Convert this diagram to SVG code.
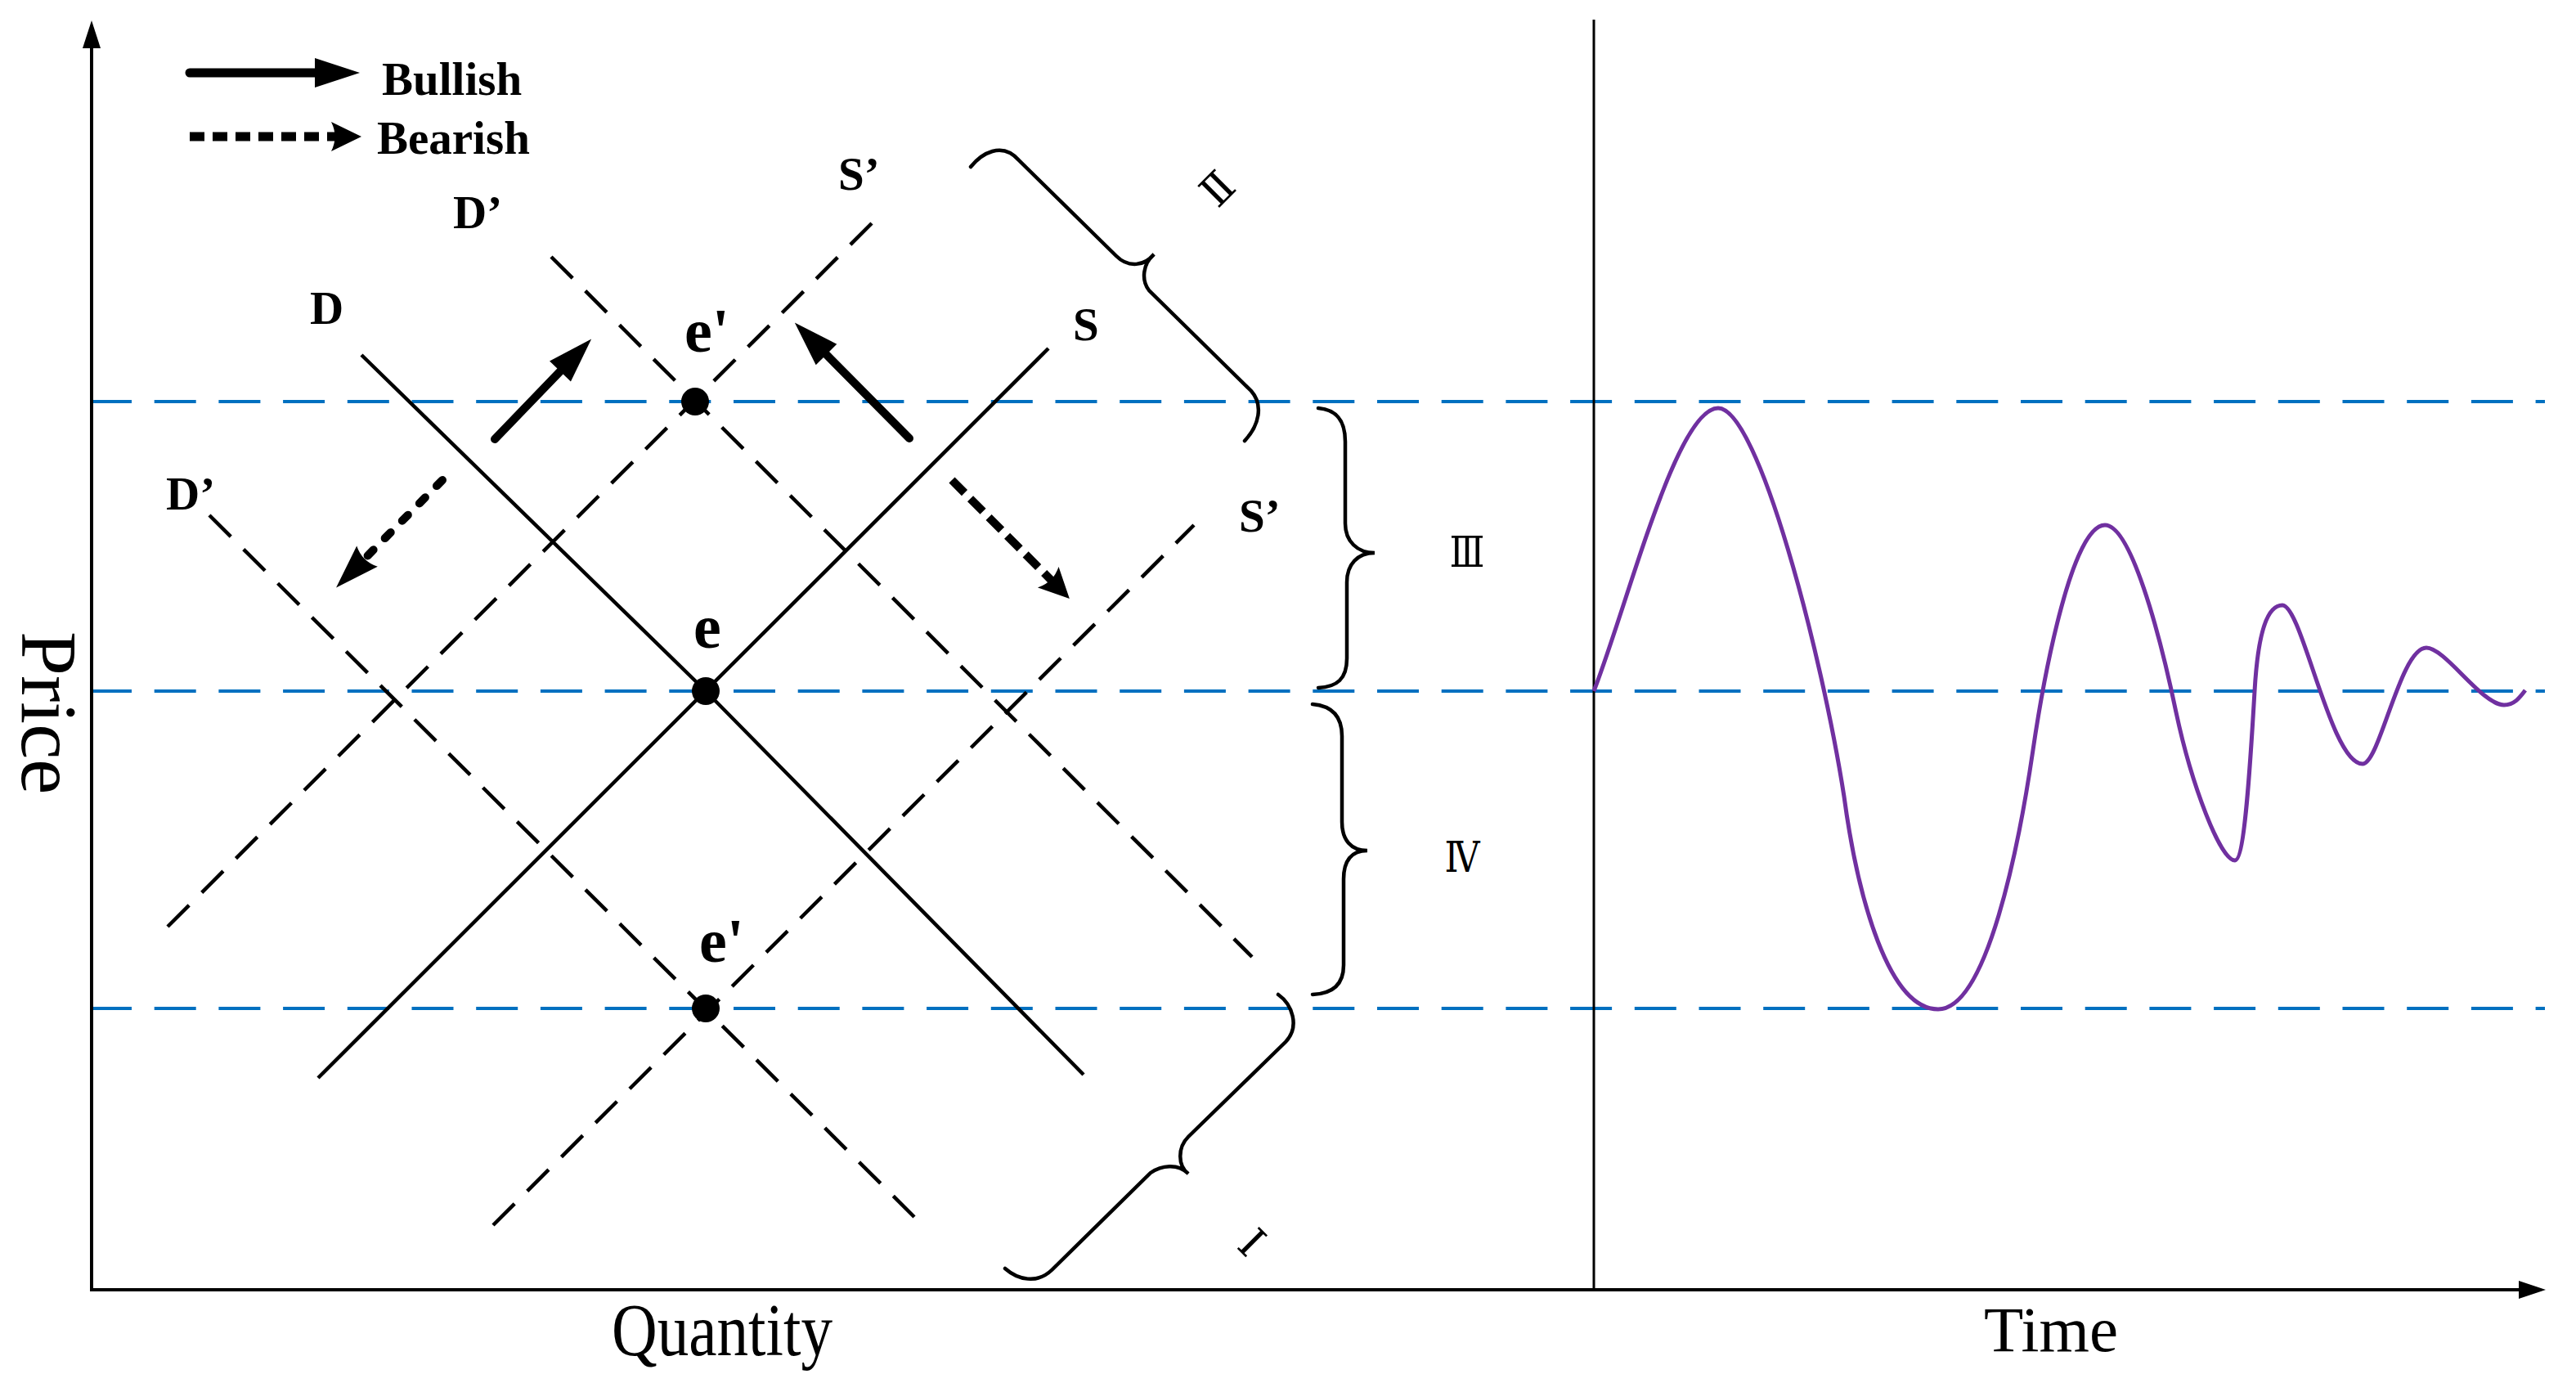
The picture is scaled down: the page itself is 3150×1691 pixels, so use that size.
<svg xmlns="http://www.w3.org/2000/svg" width="3150" height="1691" viewBox="0 0 3150 1691">
<defs>
<style>
.ax{stroke:#000;stroke-width:4;fill:none}
.thin{stroke:#000;stroke-width:3;fill:none}
.solid{stroke:#000;stroke-width:4.5;fill:none}
.dash{stroke:#000;stroke-width:4.5;fill:none;stroke-dasharray:37 22}
.guide{stroke:#0070C0;stroke-width:4;fill:none;stroke-dasharray:51 27.7}
.brace{stroke:#000;stroke-width:4.5;fill:none;stroke-linecap:round}
.bull{stroke:#000;stroke-width:10;fill:none;stroke-linecap:round}
.bear{stroke:#000;stroke-width:10;fill:none;stroke-dasharray:22 10}
.bearr{stroke:#000;stroke-width:10;fill:none;stroke-dasharray:10 20;stroke-linecap:round}
.lab{font-family:"Liberation Serif","Times New Roman",serif;font-weight:bold;font-size:57px;fill:#000}
.elab{font-family:"Liberation Serif","Times New Roman",serif;font-weight:bold;font-size:76px;fill:#000}
.axl{font-family:"Liberation Serif","Times New Roman",serif;fill:#000}
.rn{font-family:"DejaVu Serif","Liberation Serif","Noto Sans CJK SC",serif;font-size:52px;fill:#000}
.curve{stroke:#7030A0;stroke-width:5;fill:none}
</style>
<marker id="bullHead" markerUnits="userSpaceOnUse" markerWidth="55" markerHeight="36" viewBox="0 0 55 36" refX="0" refY="18" orient="auto" overflow="visible"><path d="M0,0 L55,18 L0,36 Z" fill="#000"/></marker>
<marker id="bearHead" markerUnits="userSpaceOnUse" markerWidth="37" markerHeight="36" viewBox="0 0 37 36" refX="6" refY="18" orient="auto" overflow="visible"><path d="M0,0 L37,18 L0,36 Q9,18 0,0 Z" fill="#000"/></marker>
<marker id="bearHeadL" markerUnits="userSpaceOnUse" markerWidth="54" markerHeight="36" viewBox="0 0 54 36" refX="6" refY="18" orient="auto" overflow="visible"><path d="M0,0 L54,18 L0,36 Q9,18 0,0 Z" fill="#000"/></marker>
</defs>
<rect width="3150" height="1691" fill="#fff"/>

<g id="guides">
<line class="guide" x1="110" y1="491" x2="3112" y2="491"/>
<line class="guide" x1="110" y1="845" x2="3112" y2="845"/>
<line class="guide" x1="110" y1="1233" x2="3112" y2="1233"/>
</g>

<g id="axes">
<line class="ax" x1="112" y1="1577" x2="112" y2="55"/>
<path d="M112,25 L101,59 L123,59 Z" fill="#000"/>
<line class="ax" x1="110" y1="1577" x2="3084" y2="1577"/>
<path d="M3113,1577 L3080,1566 L3080,1588 Z" fill="#000"/>
<line class="thin" x1="1949" y1="24" x2="1949" y2="1577"/>
</g>

<g id="legend">
<line class="bull" x1="232" y1="89" x2="385" y2="89" style="stroke-width:11" marker-end="url(#bullHead)"/>
<line class="bear" x1="232" y1="167" x2="411" y2="167" style="stroke-width:11;stroke-dasharray:18 10" marker-end="url(#bearHead)"/>
<text class="lab" x="467" y="116">Bullish</text>
<text class="lab" x="461" y="188">Bearish</text>
</g>

<g id="connectors">
<path id="line-D" class="solid" d="M442,434 L863,845 L1325,1314"/>
<line id="line-S" class="solid" x1="389" y1="1318" x2="1282" y2="426"/>
<line id="line-S1-up" class="dash" x1="205" y1="1133" x2="1066" y2="273"/>
<line id="line-D1-up" class="dash" x1="674" y1="314" x2="1531" y2="1170"/>
<line id="line-D1-low" class="dash" x1="256" y1="630" x2="1118" y2="1488"/>
<line id="line-S1-low" class="dash" x1="603" y1="1498" x2="1460" y2="642"/>
</g>

<g id="arrows">
<line class="bull" x1="605" y1="537" x2="685" y2="454" marker-end="url(#bullHead)"/>
<line class="bull" x1="1112" y1="536" x2="1010.5" y2="433.5" marker-end="url(#bullHead)"/>
<line class="bearr" x1="541" y1="587" x2="444.8" y2="684.3" marker-end="url(#bearHeadL)"/>
<line class="bear" x1="1164" y1="587" x2="1286" y2="710" marker-end="url(#bearHead)"/>
</g>

<g id="points">
<circle id="e-up" cx="850" cy="491" r="17" fill="#000"/>
<circle id="e" cx="863" cy="845" r="17" fill="#000"/>
<circle id="e-low" cx="863" cy="1233" r="17" fill="#000"/>
</g>

<g id="line-labels">
<text class="lab" x="379" y="396">D</text>
<text class="lab" x="554" y="279">D’</text>
<text class="lab" x="203" y="623">D’</text>
<text class="lab" x="1025" y="232">S’</text>
<text class="lab" x="1312" y="416">S</text>
<text class="lab" x="1515" y="650">S’</text>
<text class="elab" x="837" y="430">e'</text>
<text class="elab" x="848" y="792">e</text>
<text class="elab" x="855" y="1176">e'</text>
</g>

<g id="braces">
<path id="brace-II" class="brace" d="M1187,204 C1200,188 1225,172 1246,196 L1365,313 C1380,328 1400,325 1411,311 C1398,322 1395,342 1405,355 L1530,478 C1545,495 1540,520 1522,539"/>
<path id="brace-III" class="brace" d="M1612,499 C1635,501 1645,515 1645,540 L1645,640 C1645,662 1660,676 1681,676 C1660,676 1647,690 1647,712 L1647,805 C1647,830 1635,840 1612,841"/>
<path id="brace-IV" class="brace" d="M1605,861 C1628,863 1641,875 1641,900 L1641,1005 C1641,1027 1652,1040 1672,1040 C1652,1040 1643,1053 1643,1075 L1643,1180 C1643,1203 1630,1215 1605,1216"/>
<path id="brace-I" class="brace" d="M1563,1216 C1580,1228 1590,1255 1572,1274 L1453,1390 C1440,1403 1440,1425 1453,1435 C1440,1422 1420,1425 1407,1434 L1286,1553 C1268,1570 1245,1565 1229,1551"/>
<text class="rn" transform="translate(1488,230) rotate(-45)" x="0" y="19" text-anchor="middle">Ⅱ</text>
<text class="rn" x="1794" y="693" text-anchor="middle" textLength="43" lengthAdjust="spacingAndGlyphs">Ⅲ</text>
<text class="rn" x="1788" y="1066" text-anchor="middle" textLength="43" lengthAdjust="spacingAndGlyphs">Ⅳ</text>
<text class="rn" transform="translate(1530,1520) rotate(45)" x="0" y="17" text-anchor="middle">Ⅰ</text>
</g>

<g id="price-curve">
<path class="curve" d="M1949,845 C1990,740 2050,499 2101,499 C2150,499 2228,800 2255,974 C2272,1100 2310,1234 2370,1234 C2430,1234 2469,1033 2486,917 C2501,815 2535,642 2574,642 C2605,642 2640,770 2661,871 C2680,960 2715,1052 2733,1052 C2745,1052 2752,930 2757,845 C2761,775 2772,740 2791,740 C2815,740 2850,934 2889,934 C2910,934 2935,792 2967,792 C2990,792 3035,862 3062,862 C3075,862 3082,852 3088,844"/>
</g>

<g id="axis-labels">
<text class="axl" transform="translate(27,772) rotate(90)" x="0" y="0" style="font-size:97px">Price</text>
<text class="axl" x="748" y="1657" style="font-size:90px" textLength="270" lengthAdjust="spacingAndGlyphs">Quantity</text>
<text class="axl" x="2426" y="1652" style="font-size:79px">Time</text>
</g>
</svg>
